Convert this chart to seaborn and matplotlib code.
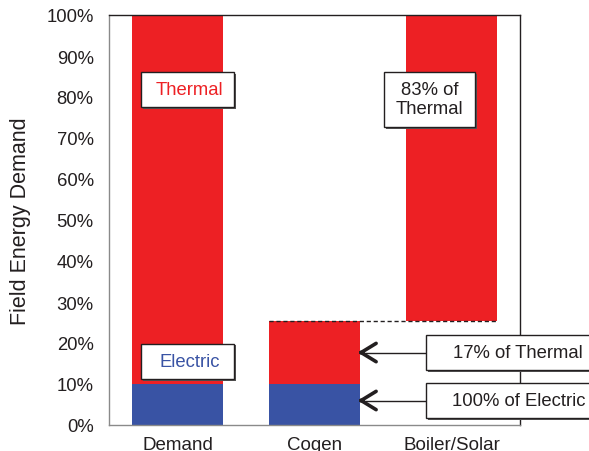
import matplotlib
matplotlib.use("Agg")
import matplotlib.pyplot as plt
import matplotlib.transforms as mtransforms
from matplotlib.patches import Rectangle
import seaborn as sns
import numpy as np
import pandas as pd

# Shares of field energy demand (percent)
categories = ["Demand", "Cogen", "Boiler/Solar"]
electric = [10, 10, 0]
thermal = [90, 15.3, 74.7]
y_ticks = [0, 10, 20, 30, 40, 50, 60, 70, 80, 90, 100]

RED = "#ED2024"
BLUE = "#3953A4"
INK = "#231F20"
GRAY = "#8A8A8A"

sns.set_theme(style="white")
plt.rcParams["font.family"] = ["Liberation Sans", "DejaVu Sans"]

fig = plt.figure(figsize=(5.89, 4.52), dpi=100)
ax = fig.add_axes([109 / 589, 26 / 452, 411 / 589, 410 / 452])

# Stacking: thermal sits on electric; the boiler/solar block floats above cogen
thermal_base = [electric[0], electric[1], electric[1] + thermal[1]]

df = pd.DataFrame({"cat": categories, "electric": electric,
                   "thermal": thermal, "base": thermal_base})

sns.barplot(data=df, x="cat", y="electric", order=categories, color=BLUE,
            saturation=1, width=0.67, linewidth=0, ax=ax)
sns.barplot(data=df, x="cat", y="thermal", order=categories, color=RED,
            saturation=1, width=0.67, linewidth=0, bottom=df["base"].values, ax=ax)

ax.set_xlim(-0.5, 2.5)
ax.set_ylim(0, 100)
ax.set_yticks(y_ticks)
ax.set_yticklabels([f"{v}%" for v in y_ticks])
ax.set_xlabel("")
ax.set_ylabel("Field Energy Demand", fontsize=15.5, color=INK, labelpad=11)

ax.set_xticks(range(len(categories)))
ax.set_xticklabels(categories)
ax.set_xticks([-0.5, 0.5, 1.5, 2.5], minor=True)
ax.tick_params(axis="x", which="major", length=0, pad=8, labelsize=13.5, labelcolor=INK)
ax.tick_params(axis="x", which="minor", length=5, width=1, color=GRAY, direction="out")
ax.tick_params(axis="y", length=5, width=1, color=GRAY, direction="out", pad=6,
               labelsize=13.3, labelcolor=INK)

for side in ["left", "bottom"]:
    ax.spines[side].set_color(GRAY)
    ax.spines[side].set_linewidth(1)
for side in ["top", "right"]:
    ax.spines[side].set_color(INK)
    ax.spines[side].set_linewidth(1)
    ax.spines[side].set_visible(True)

# Dashed guide at the top of the cogen thermal share
top_cogen = electric[1] + thermal[1]
ax.plot([1 - 0.335, 2 + 0.335], [top_cogen, top_cogen], color=INK, lw=1,
        ls=(0, (3, 2)), zorder=4)

shadow_shift = mtransforms.ScaledTranslation(1.2 / 72, -1.2 / 72, fig.dpi_scale_trans)


def box(x0, y0, x1, y1, text, color=INK, tx=None, size=13.3):
    sh = Rectangle((x0, y0), x1 - x0, y1 - y0, transform=ax.transData + shadow_shift,
                   facecolor="#555555", edgecolor="none", zorder=5, clip_on=False)
    ax.add_patch(sh)
    r = Rectangle((x0, y0), x1 - x0, y1 - y0, facecolor="white", edgecolor=INK,
                  lw=1, zorder=6, clip_on=False)
    ax.add_patch(r)
    cx = (x0 + x1) / 2 if tx is None else tx
    ax.text(cx, (y0 + y1) / 2, text, ha="center", va="center", color=color,
            fontsize=size, zorder=7, clip_on=False, linespacing=1.15)


box(-0.266, 77.6, 0.412, 86.1, "Thermal", RED, tx=0.09)
box(-0.266, 11.2, 0.412, 19.8, "Electric", BLUE, tx=0.09)
box(1.507, 72.7, 2.172, 86.1, "83% of\nThermal")
box(1.814, 13.4, 3.2, 21.95, "17% of Thermal", tx=2.488)
box(1.814, 1.7, 3.2, 10.25, "100% of Electric", tx=2.488)

# Arrows pointing at the cogen shares
bar_edge = 1 + 0.335
for yv in [(13.4 + 21.95) / 2, (1.7 + 10.25) / 2]:
    ax.plot([bar_edge, 1.814], [yv, yv], color=INK, lw=1, zorder=4)
    ax.annotate("", xy=(bar_edge - 0.02, yv), xytext=(4, 0), textcoords="offset points",
                arrowprops=dict(arrowstyle="->,head_length=0.9,head_width=0.55",
                                color=INK, lw=2.6, shrinkA=0, shrinkB=0),
                zorder=5)

fig.savefig("out.png", dpi=100)
